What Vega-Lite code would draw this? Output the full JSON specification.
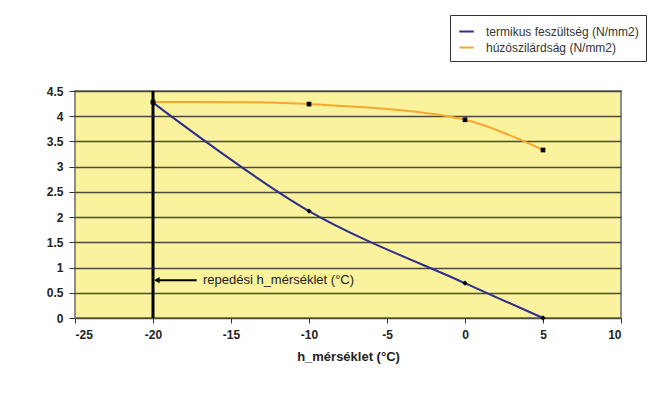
{
  "$schema": "https://vega.github.io/schema/vega-lite/v6.json",
  "autosize": "none",
  "width": 546,
  "height": 227,
  "padding": {"left": 75, "top": 91, "right": 49, "bottom": 76},
  "background": "white",
  "config": {
    "view": {"fill": "#FAF29C", "stroke": "#8c8c8c", "strokeWidth": 2},
    "font": "Liberation Sans"
  },
  "datasets": {
    "series": [
      {"t": -20, "v": 4.27, "s": "termikus feszültség (N/mm2)"},
      {"t": -10, "v": 2.12, "s": "termikus feszültség (N/mm2)"},
      {"t": 0, "v": 0.69, "s": "termikus feszültség (N/mm2)"},
      {"t": 5, "v": 0.0, "s": "termikus feszültség (N/mm2)"},
      {"t": -20, "v": 4.28, "s": "húzószilárdság (N/mm2)"},
      {"t": -10, "v": 4.24, "s": "húzószilárdság (N/mm2)"},
      {"t": 0, "v": 3.93, "s": "húzószilárdság (N/mm2)"},
      {"t": 5, "v": 3.33, "s": "húzószilárdság (N/mm2)"}
    ],
    "crack": [{"t": -20, "label": "repedési h_mérséklet (°C)", "ya": 0.75, "xa": -19.75, "xb": -17.2, "xt": -16.8}]
  },
  "layer": [
    {
      "data": {"name": "series"},
      "mark": {"type": "line", "interpolate": "catmull-rom", "strokeWidth": 2},
      "encoding": {
        "x": {"field": "t", "type": "quantitative", "scale": {"domain": [-25, 10], "nice": false},
          "axis": {"values": [-25, -20, -15, -10, -5, 0, 5, 10], "tickCount": 20, "grid": false, "title": "h_mérséklet (°C)",
            "labelExpr": "replace(datum.label, '−', '-')",
            "labelFont": "Liberation Sans", "labelFontWeight": "bold", "labelFontSize": 12, "labelColor": "#222",
            "titleFont": "Liberation Sans", "titleFontWeight": "bold", "titleFontSize": 13, "titleColor": "#222",
            "titlePadding": 10, "labelPadding": 6, "tickColor": "#333", "tickSize": 5, "domain": false}},
        "y": {"field": "v", "type": "quantitative", "scale": {"domain": [0, 4.5], "nice": false},
          "axis": {"values": [0, 0.5, 1, 1.5, 2, 2.5, 3, 3.5, 4, 4.5], "tickCount": 20, "format": "~g",
            "title": null, "grid": true, "gridColor": "#4a4a3a", "gridWidth": 1.5, "domain": false, "labelOverlap": false,
            "labelFont": "Liberation Sans", "labelFontWeight": "bold", "labelFontSize": 12, "labelColor": "#222",
            "labelPadding": 6, "tickColor": "#333", "tickSize": 6}},
        "color": {"field": "s", "type": "nominal",
          "scale": {"domain": ["termikus feszültség (N/mm2)", "húzószilárdság (N/mm2)"], "range": ["#2E2E8C", "#F7A630"]},
          "legend": {"orient": "none", "legendX": 375, "legendY": -76, "title": null,
            "fillColor": "white", "strokeColor": "#333", "padding": 7,
            "labelFont": "Liberation Sans", "labelFontSize": 12, "labelColor": "#333", "labelOffset": 10,
            "symbolType": "M-0.85,0L0.85,0", "symbolStrokeWidth": 2, "symbolSize": 289, "rowPadding": 0}}
      }
    },
    {
      "data": {"name": "crack"},
      "mark": {"type": "rule", "color": "black", "strokeWidth": 3},
      "encoding": {
        "x": {"field": "t", "type": "quantitative"}
      }
    },
    {
      "data": {"name": "series"},
      "transform": [{"filter": "datum.s == 'termikus feszültség (N/mm2)'"}],
      "mark": {"type": "point", "shape": "diamond", "filled": true, "color": "black", "size": 28, "opacity": 1},
      "encoding": {
        "x": {"field": "t", "type": "quantitative"},
        "y": {"field": "v", "type": "quantitative"}
      }
    },
    {
      "data": {"name": "series"},
      "transform": [{"filter": "datum.s == 'húzószilárdság (N/mm2)'"}],
      "mark": {"type": "point", "shape": "square", "filled": true, "color": "black", "size": 22, "opacity": 1},
      "encoding": {
        "x": {"field": "t", "type": "quantitative"},
        "y": {"field": "v", "type": "quantitative"}
      }
    },
    {
      "data": {"name": "crack"},
      "mark": {"type": "rule", "color": "black", "strokeWidth": 2},
      "encoding": {
        "x": {"field": "xa", "type": "quantitative"},
        "x2": {"field": "xb"},
        "y": {"field": "ya", "type": "quantitative"}
      }
    },
    {
      "data": {"name": "crack"},
      "mark": {"type": "point", "shape": "triangle-left", "filled": true, "color": "black", "size": 40, "opacity": 1},
      "encoding": {
        "x": {"field": "xa", "type": "quantitative"},
        "y": {"field": "ya", "type": "quantitative"}
      }
    },
    {
      "data": {"name": "crack"},
      "mark": {"type": "text", "align": "left", "baseline": "middle", "font": "Liberation Sans", "fontSize": 13, "color": "#222"},
      "encoding": {
        "x": {"field": "xt", "type": "quantitative"},
        "y": {"field": "ya", "type": "quantitative"},
        "text": {"field": "label"}
      }
    }
  ]
}
